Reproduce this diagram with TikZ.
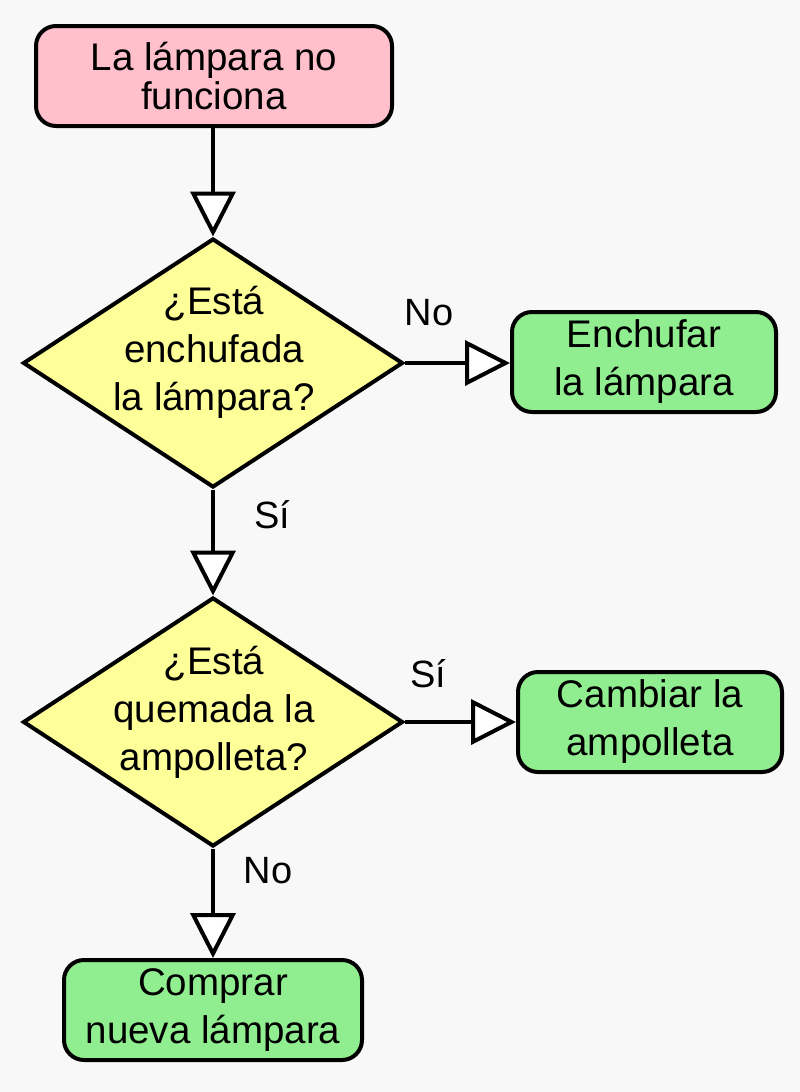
\documentclass[tikz,border=0pt]{standalone}
\usepackage{fontspec}
\setmainfont{Liberation Sans}
\usetikzlibrary{shapes.geometric,arrows.meta}
\definecolor{bgcol}{HTML}{F8F8F8}
\definecolor{startpink}{HTML}{FFC0CB}
\definecolor{decyellow}{HTML}{FFFF99}
\definecolor{endgreen}{HTML}{90EE90}
\begin{document}
\begin{tikzpicture}[x=1pt,y=-1pt,
  box/.style={draw=black,line width=4pt,rounded corners=20pt,minimum height=100pt,
    inner sep=0pt,align=center,font=\fontsize{38.5}{48}\selectfont},
  startbox/.style={box,fill=startpink,font=\fontsize{38.5}{39.5}\selectfont},
  endbox/.style={box,fill=endgreen},
  decision/.style={diamond,draw=black,line width=4pt,fill=decyellow,
    minimum width=380pt,minimum height=249pt,inner sep=0pt},
  dtext/.style={align=center,inner sep=0pt,font=\fontsize{38.5}{48}\selectfont},
  lbl/.style={anchor=base,inner sep=0pt,font=\fontsize{38}{40}\selectfont},
  arr/.style={line width=4pt,-{Triangle[length=45pt,width=45pt,fill=white]}}]
\fill[bgcol] (0,0) rectangle (800,1092);
\useasboundingbox (0,0) rectangle (800,1092);

\node[startbox,minimum width=356pt] (start) at (214,76) {La lámpara no\\funciona};
\node[decision] (d1) at (213,363) {};
\node[dtext] (d1t) at (214,352) {¿Está\\enchufada\\la lámpara?};
\node[endbox,minimum width=264pt] (plug) at (644,362) {Enchufar\\la lámpara};
\node[decision] (d2) at (213,722) {};
\node[dtext] (d2t) at (214,712) {¿Está\\quemada la\\ampolleta?};
\node[endbox,minimum width=264pt] (bulb) at (650,722) {Cambiar la\\ampolleta};
\node[endbox,minimum width=298pt] (buy) at (213,1010) {Comprar\\nueva lámpara};

\node[lbl] (l1) at (429,325) {No};
\node[lbl] (l2) at (272,528) {Sí};
\node[lbl] (l3) at (428,687) {Sí};
\node[lbl] (l4) at (268,883) {No};

\draw[arr] (start.south -| d1.north) -- (d1.north);
\draw[arr] (d1.east) -- (d1.east -| plug.west);
\draw[arr] (d1.south) -- (d2.north);
\draw[arr] (d2.east) -- (d2.east -| bulb.west);
\draw[arr] (d2.south) -- (d2.south |- buy.north);
\end{tikzpicture}
\end{document}
